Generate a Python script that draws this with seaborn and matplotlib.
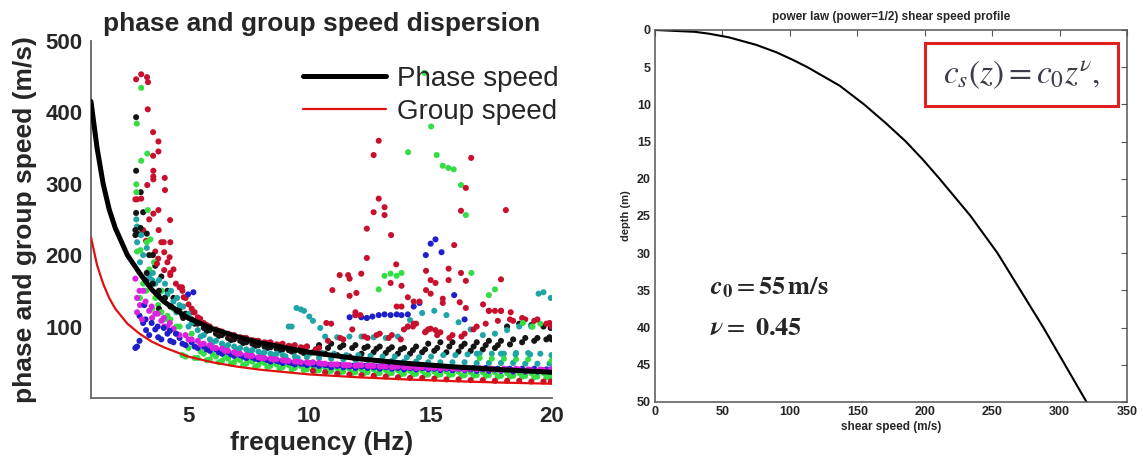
import numpy as np
import pandas as pd
import matplotlib
matplotlib.use("Agg")
import matplotlib.pyplot as plt
import seaborn as sns
from matplotlib.patches import Rectangle

# ---------------- data: left panel (dispersion) ----------------
curve_f = [1, 1.25, 1.5, 1.75, 2, 2.5, 3, 3.5, 4, 5, 6, 7, 8, 10, 12, 14, 16, 18, 20]
phase_speed = [415, 350, 300, 264, 238, 200, 175, 152, 135, 112, 97, 86, 77, 64, 55, 48.5, 43.5, 39.5, 36]
group_speed = [225, 186, 160, 140, 125, 104, 90, 79, 71, 58, 50, 44, 39.5, 33, 29, 26, 23.5, 21.5, 20]

grid_a = [2.9, 3.4, 3.9, 4.4, 4.9, 5.4, 5.9, 6.4, 6.9, 7.4, 7.9, 8.4, 8.9, 9.4, 9.9, 10.4, 10.9, 11.4,
          11.9, 12.4, 12.9, 13.4, 13.9, 14.4, 14.9, 15.4, 15.9, 16.4, 16.9, 17.4, 17.9, 18.4, 18.9, 19.4, 19.9]
grid_b = [3.15, 3.65, 4.15, 4.65, 5.15, 5.65, 6.15, 6.65, 7.15, 7.65, 8.15, 8.65, 9.15, 9.65, 10.15, 10.65,
          11.15, 11.65, 12.15, 12.65, 13.15, 13.65, 14.15, 14.65, 15.15, 15.65, 16.15, 16.65, 17.15, 17.65,
          18.15, 18.65, 19.15, 19.65, 19.95]
grid_c = [3.02, 3.52, 4.02, 4.52, 5.02, 5.52, 6.02, 6.52, 7.02, 7.52, 8.02, 8.52, 9.02, 9.52, 10.02, 10.52,
          11.02, 11.52, 12.02, 12.52, 13.02, 13.52, 14.02, 14.52, 15.02, 15.52, 16.02, 16.52, 17.02, 17.52,
          18.02, 18.52, 19.02, 19.52, 19.98]
grid_d = [3.27, 3.77, 4.27, 4.77, 5.27, 5.77, 6.27, 6.77, 7.27, 7.77, 8.27, 8.77, 9.27, 9.77, 10.27, 10.77,
          11.27, 11.77, 12.27, 12.77, 13.27, 13.77, 14.27, 14.77, 15.27, 15.77, 16.27, 16.77, 17.27, 17.77,
          18.27, 18.77, 19.27, 19.77, 19.99]

black_a = [230, 200, 170, 140, 118, 104, 95, 88, 82, 78, 74, 71, 68, 66, 72, 74, 76, 74, 74, 72, 72, 71, 70,
           72, 76, 78, 78, 76, 78, 80, 80, 82, 84, 84, 85]
black_b = [260, 185, 150, 125, 110, 98, 90, 84, 80, 76, 72, 69, 67, 65, 64, 62, 60, 58, 62, 64, 63, 62, 62,
           64, 66, 64, 65, 66, 68, 70, 100, 104, 102, 100, 98]
black_d = [165, 145, 128, 115, 104, 94, 87, 81, 77, 73, 70, 67, 65, 63, 68, 70, 71, 70, 70, 69, 68, 68, 67,
           68, 70, 72, 72, 72, 74, 74, 75, 78, 80, 82, 82]
cyan_a = [240, 170, 150, 135, 115, 95, 82, 76, 72, 68, 65, 62, 60, 58, 57, 56, 55, 54, 53, 53, 52, 52, 51,
          51, 50, 50, 50, 50, 49, 49, 49, 49, 48, 48, 48]
cyan_b = [200, 160, 145, 130, 105, 88, 80, 74, 70, 67, 64, 62, 100, 124, 108, 86, 85, 86, 86, 85, 84, 86,
          109, 119, 122, 116, 106, 96, 88, 90, 95, 100, 100, 148, 140]
cyan_c = [190, 165, 140, 120, 100, 86, 78, 72, 68, 65, 62, 60, 58, 56, 62, 63, 62, 60, 60, 59, 58, 58, 57,
          57, 58, 60, 60, 61, 62, 62, 62, 63, 63, 62, 60]
green_a = [205, 180, 150, 125, 58, 56, 54, 52, 50, 48, 46, 45, 43, 42, 40, 39, 38, 37, 36, 36, 35, 35, 34,
           34, 33, 33, 33, 32, 32, 32, 31, 31, 31, 30, 30]
green_b = [160, 140, 115, 100, 90, 62, 58, 55, 53, 51, 49, 47, 46, 45, 44, 43, 42, 41, 40, 40, 39, 39, 38,
           38, 37, 37, 37, 36, 36, 36, 35, 35, 35, 35, 34]
green_c = [140, 125, 110, 100, 70, 65, 61, 58, 55, 53, 51, 50, 48, 47, 46, 45, 44, 44, 43, 43, 42, 42, 41,
           41, 41, 40, 40, 40, 56, 55, 55, 54, 54, 104, 52]
green_d = [150, 130, 110, 60, 56, 53, 50, 48, 46, 44, 43, 41, 40, 39, 38, 37, 36, 35, 35, 34, 34, 33, 33,
           32, 32, 32, 31, 31, 31, 30, 30, 30, 29, 29, 29]
blue_a = [72, 88, 82, 78, 74, 70, 66, 62, 59, 56, 54, 51, 49, 47, 46, 45, 43, 43, 42, 42, 41, 41, 40, 40,
          40, 39, 39, 39, 38, 38, 38, 37, 37, 37, 37]
blue_b = [105, 96, 90, 84, 78, 72, 68, 64, 60, 57, 55, 52, 50, 48, 47, 46, 45, 44, 44, 43, 43, 42, 42, 42,
          41, 41, 41, 40, 40, 40, 40, 39, 39, 39, 39]
blue_d = [95, 85, 80, 76, 72, 68, 64, 61, 58, 55, 53, 51, 49, 48, 47, 46, 46, 45, 45, 44, 44, 44, 43, 43,
          43, 42, 42, 42, 42, 41, 41, 41, 41, 40, 40]
magenta_a = [140, 122, 108, 97, 88, 80, 74, 69, 64, 60, 57, 55, 53, 51, 50, 49, 47, 46, 45, 45, 44, 43, 43,
             42, 42, 41, 41, 40, 40, 40, 39, 39, 38, 38, 38]
magenta_b = [150, 118, 100, 88, 82, 76, 70, 66, 62, 59, 56, 54, 52, 50, 50, 48, 47, 46, 46, 45, 44, 44, 43,
             43, 42, 42, 41, 41, 41, 40, 40, 40, 39, 39, 39]
magenta_c = [130, 112, 100, 90, 82, 75, 70, 66, 62, 59, 56, 54, 52, 51, 49, 48, 47, 46, 46, 45, 45, 44, 44,
             43, 43, 43, 42, 42, 42, 41, 41, 41, 40, 40, 40]
red_a = [278, 250, 218, 180, 140, 113, 100, 93, 88, 84, 80, 78, 76, 74, 72, 70, 104, 82, 120, 84, 90, 88,
         96, 104, 96, 92, 88, 90, 100, 122, 122, 108, 110, 110, 105]
red_b = [235, 205, 190, 155, 125, 105, 96, 90, 85, 81, 78, 75, 73, 71, 38, 36, 34, 33, 32, 31, 30, 29, 28,
         28, 27, 26, 26, 25, 25, 24, 24, 24, 23, 23, 23]
red_d = [220, 195, 175, 150, 120, 102, 94, 88, 84, 80, 77, 74, 72, 70, 68, 80, 84, 96, 86, 88, 84, 82, 100,
         92, 88, 84, 86, 96, 104, 108, 110, 112, 108, 104, 100]

black_xf = [2.86, 2.86, 3.05, 2.86, 2.83, 2.83, 3.04, 3.04, 3.3, 3.55, 3.8, 4.05, 4.3, 4.55, 4.8, 3.3, 3.55, 3.8]
black_xv = [393, 318, 288, 259, 235, 228, 238, 229, 175, 160, 150, 140, 128, 122, 112, 230, 200, 125]
cyan_xf = [2.87, 3.07, 3.3, 2.9, 3.55, 3.8, 4.05, 4.3, 4.55, 4.8, 5.05, 9.27, 9.47, 9.78, 10.0, 10.45,
           14.06, 19.45, 16.9, 17.9, 18.5, 19.1]
cyan_xv = [250, 228, 210, 218, 175, 165, 160, 150, 140, 128, 118, 100, 126, 122, 114, 98, 100, 146, 62, 62, 61, 61]
green_xf = [2.87, 2.89, 3.07, 3.07, 3.32, 3.34, 2.87, 3.04, 3.3, 3.45, 3.6, 3.9, 4.2, 12.86, 13.1, 13.35,
            13.6, 13.8, 14.07, 14.75, 15.02, 15.25, 15.5, 15.73, 15.95, 16.25, 16.45, 16.68, 17.4, 17.65,
            18.8, 19.2, 12.37]
green_xv = [288, 384, 434, 332, 342, 263, 299, 207, 218, 222, 190, 120, 110, 152, 171, 174, 171, 175, 344,
            455, 380, 340, 325, 322, 320, 298, 256, 175, 144, 152, 105, 100, 112]
blue_xf = [2.83, 3.0, 3.2, 3.0, 3.25, 3.5, 3.75, 4.0, 4.25, 4.5, 5.0, 5.22, 11.66, 11.9, 12.14, 12.37, 12.6,
           12.86, 13.1, 13.35, 13.6, 13.8, 14.06, 14.3, 14.54, 14.8, 15.0, 15.2, 15.45, 15.97, 16.4]
blue_xv = [70, 80, 130, 115, 110, 105, 100, 98, 94, 90, 145, 148, 113, 116, 113, 112, 114, 116, 117, 116,
           117, 116, 117, 128, 133, 200, 216, 222, 204, 144, 110]
magenta_xf = [2.83, 3.0, 3.25, 3.5, 3.75, 4.0, 4.25, 2.9, 3.1]
magenta_xv = [167, 150, 135, 128, 118, 112, 105, 120, 110]
red_xf = [2.86, 3.07, 3.31, 3.35, 3.34, 3.56, 3.78, 3.78, 3.56, 3.57,
          3.57, 3.57, 4.04, 3.32, 4.05, 2.83, 3.07, 3.57, 3.78, 4.26,
          3.79, 4.0, 4.27, 4.02, 4.24, 3.72, 4.02, 4.27, 4.5, 4.75,
          4.82, 5.02, 5.23, 5.5, 12.86, 12.65, 16.67, 16.45, 12.86, 12.65,
          13.1, 13.1, 16.25, 18.1, 12.37, 13.37, 12.37, 13.58, 12.14, 11.66,
          13.35, 11.94, 11.66, 13.8, 15.97, 15.74, 14.81, 16.25, 16.45, 15.0,
          15.2, 14.81, 15.0, 15.74, 15.5, 15.5, 16.2, 16.45, 17.9, 17.16,
          14.3, 14.54, 14.06, 13.6, 13.8, 11.9, 12.1, 14.06, 14.3, 14.8,
          15.0, 15.2, 10.7, 10.95, 11.25, 11.6, 17.4, 17.65, 17.9, 18.3]
red_xv = [446, 453, 449, 442, 404, 372, 359, 345, 339, 318,
          310, 306, 308, 298, 291, 278, 279, 258, 263, 249,
          235, 218, 218, 204, 197, 188, 179, 172, 160, 155,
          141, 131, 120, 111, 360, 340, 336, 294, 279, 260,
          267, 256, 262, 263, 237, 228, 196, 187, 174, 167,
          161, 147, 143, 157, 214, 181, 178, 175, 164, 165,
          161, 151, 146, 165, 139, 133, 134, 126, 166, 131,
          135, 135, 141, 128, 128, 116, 116, 100, 104, 93,
          97, 95, 105, 151, 172, 172, 122, 122, 122, 120]

# ---------------- data: right panel (shear speed profile) ----------------
depth = [0, 0.25, 0.5, 1, 2, 3, 4, 5, 7.5, 10, 12.5, 15, 17.5, 20, 25, 30, 35, 40, 45, 50]
shear_speed = [0, 29.5, 40, 55, 75, 90, 102, 113, 137, 155, 171, 186, 199, 211, 234, 254, 271, 288, 304, 320]

# ---------------- build long table ----------------
def block(name, fx, vy):
    return pd.DataFrame({"f": fx, "v": vy, "mode": name})

parts = [
    block("black", grid_a, black_a), block("black", grid_b, black_b), block("black", grid_d, black_d),
    block("cyan", grid_a, cyan_a), block("cyan", grid_b, cyan_b), block("cyan", grid_c, cyan_c),
    block("green", grid_a, green_a), block("green", grid_b, green_b),
    block("green", grid_c, green_c), block("green", grid_d, green_d),
    block("blue", grid_a, blue_a), block("blue", grid_b, blue_b), block("blue", grid_d, blue_d),
    block("magenta", grid_a, magenta_a), block("magenta", grid_b, magenta_b),
    block("magenta", grid_c, magenta_c),
    block("red", grid_a, red_a), block("red", grid_b, red_b), block("red", grid_d, red_d),
    block("black", black_xf, black_xv), block("cyan", cyan_xf, cyan_xv),
    block("green", green_xf, green_xv), block("blue", blue_xf, blue_xv),
    block("magenta", magenta_xf, magenta_xv), block("red", red_xf, red_xv),
]
pts = pd.concat(parts, ignore_index=True)

palette = {"black": "#151515", "red": "#c8102e", "green": "#35dd45",
           "blue": "#1e1ecc", "cyan": "#1fa5a5", "magenta": "#dd22dd"}

# ---------------- figure ----------------
sns.set_style("white")
plt.rcParams["font.family"] = ["Liberation Sans", "DejaVu Sans"]
plt.rcParams["mathtext.fontset"] = "stix"

fig = plt.figure(figsize=(11.43, 4.59), dpi=100)
ax1 = fig.add_axes([0.0796, 0.1329, 0.4033, 0.7784])
ax2 = fig.add_axes([0.5731, 0.1242, 0.4129, 0.8105])

# left panel
sns.scatterplot(data=pts, x="f", y="v", hue="mode", palette=palette, s=19, linewidth=0,
                legend=False, ax=ax1, zorder=2)
sns.lineplot(x=curve_f, y=phase_speed, color="black", lw=3.6, label="Phase speed", ax=ax1, zorder=3)
sns.lineplot(x=curve_f, y=group_speed, color="#e01010", lw=1.6, label="Group speed", ax=ax1, zorder=3)
ax1.set_xlim(1, 20)
ax1.set_ylim(0, 500)
ax1.set_xticks([5, 10, 15, 20])
ax1.set_yticks([100, 200, 300, 400, 500])
for sp in ["top", "right"]:
    ax1.spines[sp].set_visible(False)
for sp in ["left", "bottom"]:
    ax1.spines[sp].set_color("#666666")
    ax1.spines[sp].set_linewidth(1.3)
ax1.tick_params(direction="in", length=5, width=1.1, color="#666666", labelsize=16, pad=6)
for lab in ax1.get_xticklabels() + ax1.get_yticklabels():
    lab.set_fontweight("bold")
ax1.set_xlabel("frequency (Hz)", fontsize=19, fontweight="bold", labelpad=3)
ax1.set_ylabel("phase and group speed (m/s)", fontsize=19, fontweight="bold", labelpad=6)
ax1.set_title("phase and group speed dispersion", fontsize=19, fontweight="bold", pad=7)
leg = ax1.legend(loc="upper right", bbox_to_anchor=(1.015, 0.93), frameon=False, fontsize=20,
                 handlelength=3.0, handletextpad=0.4, labelspacing=0.25, borderpad=0, borderaxespad=0)

# right panel
sns.lineplot(x=shear_speed, y=depth, sort=False, color="black", lw=1.5, ax=ax2)
ax2.set_xlim(0, 350)
ax2.set_ylim(50, 0)
ax2.set_xticks(np.arange(0, 351, 50))
ax2.set_yticks(np.arange(0, 51, 5))
for sp in ax2.spines.values():
    sp.set_color("#555555")
    sp.set_linewidth(1.1)
ax2.tick_params(direction="in", length=4, color="#555555", labelsize=9, top=True, right=True, pad=3)
for lab in ax2.get_xticklabels() + ax2.get_yticklabels():
    lab.set_fontweight("bold")
ax2.set_xlabel("shear speed (m/s)", fontsize=8.5, fontweight="bold", labelpad=2)
ax2.set_ylabel("depth (m)", fontsize=8, fontweight="bold", labelpad=4)
ax2.set_title("power law (power=1/2) shear speed profile", fontsize=8.5, fontweight="bold", pad=7)

ax2.add_patch(Rectangle((200, 1.75), 143, 8.5, facecolor="white", edgecolor="#e02020", lw=2.2, zorder=4))
ax2.text(271.5, 6.0, r"$c_s(z) = c_0 z^{\nu},$", fontsize=24, color="#3c3c4a", ha="center", va="center", zorder=5)
ax2.text(40.5, 34.7, r"$\boldsymbol{c}_{\mathbf{0}} = \mathbf{55\,m/s}$", fontsize=19, ha="left", va="center")
ax2.text(40.5, 40.1, r"$\boldsymbol{\nu} = \ \mathbf{0.45}$", fontsize=19, ha="left", va="center")

fig.savefig("out.png", dpi=100)
